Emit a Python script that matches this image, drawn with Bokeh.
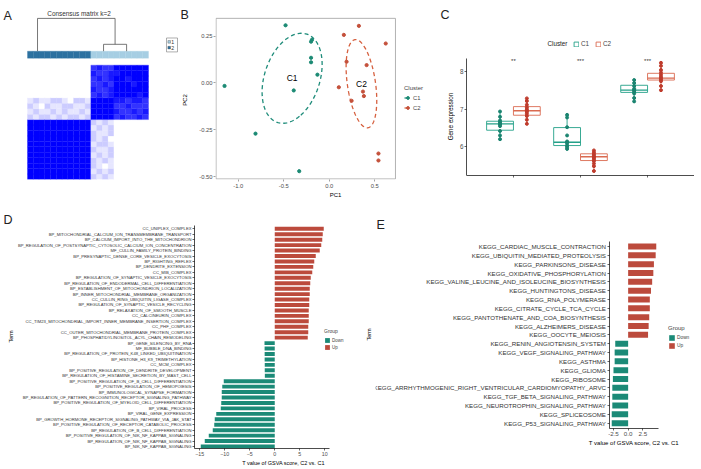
import numpy as np
from bokeh.plotting import figure
from bokeh.models import (Range1d, FactorRange, Label, Legend, LegendItem,
                          ColumnDataSource, FixedTicker, NumeralTickFormatter)
from bokeh.layouts import row, column
from bokeh.transform import dodge
from bokeh.core.properties import value
from bokeh.embed import file_html
from bokeh.resources import INLINE

FONT = "Liberation Sans"
TEAL = "#1B8A77"
RED = "#BC4A3C"

# ------------------------------------------------------------------ data
# A: consensus matrix (k=2)
n_cluster2 = 11          # left block (consensus cluster 2)
n_cluster1 = 10          # right block (consensus cluster 1)
cluster1_block = [
    [1, 1, 1, 1, .8, .9, .8, .8, .9, .8],
    [1, 1, 1, 1, .9, .8, .8, .9, .8, .9],
    [1, 1, 1, 1, .8, .8, .9, .8, .8, .8],
    [1, 1, 1, 1, .9, .9, .8, .9, .9, .8],
    [.8, .9, .8, .9, 1, 1, 1, 1, .9, 1],
    [.9, .8, .8, .9, 1, 1, 1, 1, 1, 1],
    [.8, .8, .9, .8, 1, 1, 1, .9, 1, 1],
    [.8, .9, .8, .9, 1, 1, .9, 1, 1, 1],
    [.9, .8, .8, .9, .9, 1, 1, 1, 1, 1],
    [.8, .9, .8, .8, 1, 1, 1, 1, 1, 1],
]
cross_consensus = [
    [.2, .1, .2, .2, .1, .2, .1, .2, .2, .1, .2],
    [.1, .2, .1, .1, .2, .1, .2, .1, .1, .2, .1],
    [.2, .1, 0, .2, .1, .1, .2, .2, .1, .1, .2],
    [.1, .2, .1, .1, .2, .2, .1, 0, .2, .2, .1],
]
cluster_colors = {1: "#A6CEE3", 2: "#2C71A0"}
dendro_left = 1.74
dendro_sub = [13.2, 17.2]
dendro_sub_height = 0.21

# B: PCA
pc1_c1 = [-0.48, -1.15, -0.81, -0.33, -0.39, -0.19, -0.20, -0.20, -0.20, -0.13]
pc2_c1 = [0.307, -0.016, -0.27, -0.47, -0.04, 0.23, 0.22, 0.134, 0.11, 0.044]
pc1_c2 = [0.325, 0.16, 0.62, 0.19, 0.41, 0.105, 0.37, 0.38, 0.245, 0.54, 0.54]
pc2_c2 = [0.304, 0.256, 0.21, 0.113, 0.095, -0.023, -0.046, -0.07, -0.095, -0.376, -0.413]

# C: gene expression
genes = ["NFE2L2", "ATP7B", "MTF1"]
signif = ["**", "***", "***"]
c1_q1 = [6.44, 6.03, 7.45]
c1_med = [6.61, 6.12, 7.51]
c1_q3 = [6.68, 6.51, 7.64]
c1_lo = [6.20, 5.94, 7.21]
c1_hi = [6.94, 6.85, 7.78]
c2_q1 = [6.84, 5.63, 7.78]
c2_med = [6.96, 5.73, 7.83]
c2_q3 = [7.07, 5.81, 7.96]
c2_lo = [6.61, 5.35, 7.51]
c2_hi = [7.29, 5.90, 8.24]
c1_nfe2l2 = [6.94, 6.80, 6.70, 6.66, 6.62, 6.60, 6.55, 6.42, 6.30, 6.20]
c1_atp7b = [6.85, 6.78, 6.52, 6.30, 6.14, 6.12, 6.08, 6.02, 5.98, 5.94]
c1_mtf1 = [7.78, 7.70, 7.62, 7.55, 7.52, 7.50, 7.46, 7.42, 7.30, 7.21]
c2_nfe2l2 = [7.29, 7.22, 7.12, 7.05, 7.00, 6.96, 6.93, 6.88, 6.82, 6.72, 6.61]
c2_atp7b = [5.90, 5.85, 5.80, 5.76, 5.73, 5.70, 5.66, 5.62, 5.55, 5.48, 5.35]
c2_mtf1 = [8.24, 8.16, 8.05, 7.98, 7.92, 7.86, 7.82, 7.79, 7.75, 7.62, 7.51]

# D: GO terms
go_terms = [
    "CC_UNIPLEX_COMPLEX",
    "BP_MITOCHONDRIAL_CALCIUM_ION_TRANSMEMBRANE_TRANSPORT",
    "BP_CALCIUM_IMPORT_INTO_THE_MITOCHONDRION",
    "BP_REGULATION_OF_POSTSYNAPTIC_CYTOSOLIC_CALCIUM_ION_CONCENTRATION",
    "MF_CULLIN_FAMILY_PROTEIN_BINDING",
    "BP_PRESYNAPTIC_DENSE_CORE_VESICLE_EXOCYTOSIS",
    "BP_RIGHTING_REFLEX",
    "BP_DENDRITE_EXTENSION",
    "CC_MIB_COMPLEX",
    "BP_REGULATION_OF_SYNAPTIC_VESICLE_EXOCYTOSIS",
    "BP_REGULATION_OF_ENDODERMAL_CELL_DIFFERENTIATION",
    "BP_ESTABLISHMENT_OF_MITOCHONDRION_LOCALIZATION",
    "BP_INNER_MITOCHONDRIAL_MEMBRANE_ORGANIZATION",
    "CC_CULLIN_RING_UBIQUITIN_LIGASE_COMPLEX",
    "BP_REGULATION_OF_SYNAPTIC_VESICLE_RECYCLING",
    "BP_RELAXATION_OF_SMOOTH_MUSCLE",
    "CC_CALCINEURIN_COMPLEX",
    "CC_TIM23_MITOCHONDRIAL_IMPORT_INNER_MEMBRANE_INSERTION_COMPLEX",
    "CC_PHF_COMPLEX",
    "CC_OUTER_MITOCHONDRIAL_MEMBRANE_PROTEIN_COMPLEX",
    "BP_PHOSPHATIDYLINOSITOL_ACYL_CHAIN_REMODELING",
    "BP_GENE_SILENCING_BY_RNA",
    "MF_BUBBLE_DNA_BINDING",
    "BP_REGULATION_OF_PROTEIN_K48_LINKED_UBIQUITINATION",
    "BP_HISTONE_H3_K9_TRIMETHYLATION",
    "CC_MCM_COMPLEX",
    "BP_POSITIVE_REGULATION_OF_DENDRITE_DEVELOPMENT",
    "BP_REGULATION_OF_HISTAMINE_SECRETION_BY_MAST_CELL",
    "BP_POSITIVE_REGULATION_OF_B_CELL_DIFFERENTIATION",
    "BP_POSITIVE_REGULATION_OF_HEMOPOIESIS",
    "BP_IMMUNOLOGICAL_SYNAPSE_FORMATION",
    "BP_REGULATION_OF_PATTERN_RECOGNITION_RECEPTOR_SIGNALING_PATHWAY",
    "BP_POSITIVE_REGULATION_OF_MYELOID_CELL_DIFFERENTIATION",
    "BP_VIRAL_PROCESS",
    "BP_VIRAL_GENE_EXPRESSION",
    "BP_GROWTH_HORMONE_RECEPTOR_SIGNALING_PATHWAY_VIA_JAK_STAT",
    "BP_POSITIVE_REGULATION_OF_RECEPTOR_CATABOLIC_PROCESS",
    "BP_REGULATION_OF_B_CELL_DIFFERENTIATION",
    "BP_POSITIVE_REGULATION_OF_NIK_NF_KAPPAB_SIGNALING",
    "BP_REGULATION_OF_NIK_NF_KAPPAB_SIGNALING",
    "BP_NIK_NF_KAPPAB_SIGNALING",
]
go_tvalues = [9.8, 9.6, 9.5, 9.3, 9.0, 8.2, 7.9, 7.7, 7.5, 7.2, 7.1, 7.0, 7.0,
              6.9, 6.9, 6.8, 6.8, 6.8, 6.7, 6.7, 6.6,
              -2.05, -2.03, -2.02, -2.02, -2.0, -2.0, -1.98,
              -10.2, -10.5, -10.6, -10.6, -10.7, -10.8, -11.7, -12.0, -12.1,
              -12.4, -13.2, -14.0, -14.8]

# E: KEGG terms
kegg_terms = [
    "KEGG_CARDIAC_MUSCLE_CONTRACTION",
    "KEGG_UBIQUITIN_MEDIATED_PROTEOLYSIS",
    "KEGG_PARKINSONS_DISEASE",
    "KEGG_OXIDATIVE_PHOSPHORYLATION",
    "KEGG_VALINE_LEUCINE_AND_ISOLEUCINE_BIOSYNTHESIS",
    "KEGG_HUNTINGTONS_DISEASE",
    "KEGG_RNA_POLYMERASE",
    "KEGG_CITRATE_CYCLE_TCA_CYCLE",
    "KEGG_PANTOTHENATE_AND_COA_BIOSYNTHESIS",
    "KEGG_ALZHEIMERS_DISEASE",
    "KEGG_OOCYTE_MEIOSIS",
    "KEGG_RENIN_ANGIOTENSIN_SYSTEM",
    "KEGG_VEGF_SIGNALING_PATHWAY",
    "KEGG_ASTHMA",
    "KEGG_GLIOMA",
    "KEGG_RIBOSOME",
    "KEGG_ARRHYTHMOGENIC_RIGHT_VENTRICULAR_CARDIOMYOPATHY_ARVC",
    "KEGG_TGF_BETA_SIGNALING_PATHWAY",
    "KEGG_NEUROTROPHIN_SIGNALING_PATHWAY",
    "KEGG_SPLICEOSOME",
    "KEGG_P53_SIGNALING_PATHWAY",
]
kegg_tvalues = [4.8, 4.7, 4.4, 4.3, 4.1, 3.9, 3.7, 3.7, 3.6, 3.5, 3.4,
                -2.2, -2.3, -2.3, -2.5, -2.6, -2.7, -2.7, -2.7, -2.8, -2.8]

# ------------------------------------------------------------------ layout (page px, origin top-left)
TOP_H = 200          # top row 0..200
TOP_FB = 180         # frame bottom, top row
BOT_Y0, BOT_H = 200, 268
BOT_FB = 448         # frame bottom, bottom row
TOP_BB = TOP_H - TOP_FB
BOT_BB = BOT_Y0 + BOT_H - BOT_FB


def base_fig(w, h, **kw):
    p = figure(width=w, height=h, output_backend="svg", toolbar_location=None, **kw)
    p.background_fill_color = "white"
    p.border_fill_color = "white"
    p.outline_line_color = None
    p.grid.visible = False
    return p


def style_axis(ax, label_size, tick_color="#4D4D4D", line=True):
    ax.major_label_text_font = FONT
    ax.major_label_text_font_size = label_size
    ax.major_label_text_color = tick_color
    ax.axis_label_text_font = FONT
    ax.axis_label_text_font_style = "normal"
    ax.axis_label_text_color = "black"
    ax.minor_tick_line_color = None
    ax.minor_tick_out = 0
    ax.minor_tick_in = 0
    ax.major_tick_in = 0
    ax.major_tick_out = 2
    ax.major_tick_line_width = 0.6
    ax.axis_line_width = 0.7
    ax.major_label_standoff = 1
    if not line:
        ax.axis_line_color = None


def label(p, txt, fl, fb, sx, sy, size, align="left", baseline="top", color="#222", angle=0.0):
    # text placed inside the plot frame, position given in page px
    p.add_layout(Label(x=sx - fl, y=fb - sy, x_units="screen", y_units="screen", text=txt,
                       text_font=FONT, text_font_size=size, text_color=color,
                       text_baseline=baseline, text_align=align, angle=angle))


# ------------------------------------------------------------------ A  (page x 0..190)
pa = base_fig(190, TOP_H, x_range=Range1d(0, 190), y_range=Range1d(TOP_FB, 0),
              x_axis_type=None, y_axis_type=None,
              min_border_left=0, min_border_right=0, min_border_top=0, min_border_bottom=TOP_BB)
HX0, HY0 = 27.0, 65.0
n = n_cluster2 + n_cluster1
CW, CH = 121.0 / n, 115.0 / n
M = np.zeros((n, n))
M[:n_cluster2, :n_cluster2] = 1.0
M[n_cluster2:, n_cluster2:] = np.array(cluster1_block)
cr = np.array(cross_consensus)
M[n_cluster2:n_cluster2 + cr.shape[0], :n_cluster2] = cr
M[:n_cluster2, n_cluster2:n_cluster2 + cr.shape[0]] = cr.T
hx, hy, hc = [], [], []
for i in range(n):
    for j in range(n):
        v = M[j, i]
        hx.append(HX0 + (i + 0.5) * CW)
        hy.append(HY0 + (n - 1 - j + 0.5) * CH)
        c = int(round(255 * (1 - v)))
        hc.append("#%02x%02x%02x" % (c, c, 255))
pa.rect(x=hx, y=hy, width=CW, height=CH, fill_color=hc, line_color=hc, line_width=0.3)

clusters = [2] * n_cluster2 + [1] * n_cluster1
pa.rect(x=[HX0 + (i + 0.5) * CW for i in range(n)], y=[54.5] * n, width=CW, height=7,
        fill_color=[cluster_colors[c] for c in clusters],
        line_color=[cluster_colors[c] for c in clusters], line_width=0.3)


def dpx(u):
    return HX0 + u * CW


def dpy(h):
    return 51 - h * 33


dendro_right = (dendro_sub[0] + dendro_sub[1]) / 2
seg = [
    (dendro_left, 1, dendro_right, 1),
    (dendro_left, 1, dendro_left, 0),
    (dendro_right, 1, dendro_right, dendro_sub_height),
    (dendro_sub[0], dendro_sub_height, dendro_sub[1], dendro_sub_height),
    (dendro_sub[0], dendro_sub_height, dendro_sub[0], 0),
    (dendro_sub[1], dendro_sub_height, dendro_sub[1], 0),
]
pa.segment(x0=[dpx(s[0]) for s in seg], y0=[dpy(s[1]) for s in seg],
           x1=[dpx(s[2]) for s in seg], y1=[dpy(s[3]) for s in seg],
           line_color="#555555", line_width=0.8)
pa.text(x=[78.5], y=[13], text=["Consensus matrix k=2"], text_font=value(FONT),
        text_font_size="6.4px", text_color="#333333", text_align="center", text_baseline="middle")
pa.rect(x=[171.5], y=[44.7], width=11, height=14, fill_color=None, line_color="#777777", line_width=0.6)
pa.rect(x=[168.7, 168.7], y=[41.6, 47.4], width=2.6, height=2.6,
        fill_color=[cluster_colors[1], cluster_colors[2]], line_color="#555555", line_width=0.4)
pa.text(x=[170.8, 170.8], y=[41.6, 47.4], text=["1", "2"], text_font=value(FONT),
        text_font_size="5.2px", text_color="#333333", text_align="left", text_baseline="middle")
pa.text(x=[3, 180], y=[9, 8], text=["A", "B"], text_font=value(FONT), text_font_size="12.5px",
        text_color="#222", text_align="left", text_baseline="top")
# y-axis title of panel B (sits left of B's tick labels)
pa.text(x=[184], y=[100], text=["PC2"], text_font=value(FONT), text_font_size="6px",
        text_color="black", text_align="center", text_baseline="middle", angle=np.pi / 2)

# ------------------------------------------------------------------ B  (page x 190..455)
B_L = 215
bx_per = 91.07
by_per = 188.8
bx0 = -1.0 - (237.7 - B_L) / bx_per
by_top = 0.25 + 35.7 / by_per
by_bot = -0.5 - (TOP_FB - 177.3) / by_per
pb = base_fig(265, TOP_H, x_range=Range1d(bx0, bx0 + (455 - B_L) / bx_per),
              y_range=Range1d(by_bot, by_top),
              min_border_left=B_L - 190, min_border_right=0,
              min_border_top=0, min_border_bottom=TOP_BB)
pb.quad(left=[bx0 + 0.006], right=[0.727], bottom=[by_bot + 0.003], top=[0.344],
        fill_color=None, line_color="#AAAAAA", line_width=0.9)
pb.xaxis.ticker = FixedTicker(ticks=[-1.0, -0.5, 0.0, 0.5])
pb.yaxis.ticker = FixedTicker(ticks=[-0.5, -0.25, 0.0, 0.25])
pb.xaxis.formatter = NumeralTickFormatter(format="0.0")
pb.yaxis.formatter = NumeralTickFormatter(format="0.00")
pb.xaxis.axis_label = "PC1"
for ax in (pb.xaxis[0], pb.yaxis[0]):
    style_axis(ax, "5.8px", line=False)
    ax.axis_label_text_font_size = "6px"
    ax.major_tick_line_color = "#666666"
pb.xaxis.major_label_standoff = 2
pb.xaxis.axis_label_standoff = 1


def ellipse_path(xs, ys, scale=1.0, npts=120):
    x = np.array(xs)
    y = np.array(ys)
    cov = np.cov(x, y)
    vals, vecs = np.linalg.eigh(cov)
    t = np.linspace(0, 2 * np.pi, npts)
    circ = np.vstack([np.cos(t), np.sin(t)])
    pts = vecs @ (np.sqrt(vals)[:, None] * circ) * scale
    return x.mean() + pts[0], y.mean() + pts[1]


e1x, e1y = ellipse_path(pc1_c1, pc2_c1)
e2x, e2y = ellipse_path(pc1_c2, pc2_c2)
l1 = pb.line(e1x, e1y, line_color="#1E8C7A", line_width=1.3, line_dash="4 3")
l2 = pb.line(e2x, e2y, line_color="#D6603F", line_width=1.3, line_dash="4 3")
s1 = pb.scatter(pc1_c1, pc2_c1, size=3.2, color="#1B8A74")
s2 = pb.scatter(pc1_c2, pc2_c2, size=3.2, color="#C4503A")
pb.text(x=[float(np.mean(pc1_c1)), float(np.mean(pc1_c2))],
        y=[float(np.mean(pc2_c1)), float(np.mean(pc2_c2))], text=["C1", "C2"],
        text_font=value(FONT), text_font_size="8.5px", text_color="black",
        text_align="center", text_baseline="middle")
leg_b = Legend(items=[LegendItem(label="C1", renderers=[l1, s1]),
                      LegendItem(label="C2", renderers=[l2, s2])],
               title="Cluster", location=(404 - B_L, TOP_FB - 112), orientation="vertical",
               glyph_width=7, glyph_height=7, label_height=7, label_width=10,
               label_text_font=FONT, label_text_font_size="5.8px", label_standoff=2,
               title_text_font=FONT, title_text_font_size="6px", title_text_font_style="normal",
               title_standoff=3, spacing=3, padding=0, margin=0,
               border_line_color=None, background_fill_alpha=0)
pb.add_layout(leg_b)
# panel C's letter and y-axis title fall in this frame
label(pb, "C", B_L, TOP_FB, 440, 8, "12.5px")
label(pb, "Gene expression", B_L, TOP_FB, 450, 117, "6.3px", align="center",
      baseline="middle", color="black", angle=np.pi / 2)

# ------------------------------------------------------------------ C  (page x 455..694)
C_L = 466
cy_per = 37.65
cy_top = 8 + 71.7 / cy_per
cy_bot = 6 - (TOP_FB - 147.0) / cy_per
pc = base_fig(239, TOP_H,
              x_range=FactorRange(factors=genes, range_padding=0.2, range_padding_units="absolute"),
              y_range=Range1d(cy_bot, cy_top),
              min_border_left=C_L - 455, min_border_right=0,
              min_border_top=0, min_border_bottom=TOP_BB)
pc.yaxis.ticker = FixedTicker(ticks=[6, 7, 8])
for ax in (pc.xaxis[0], pc.yaxis[0]):
    style_axis(ax, "6.3px")
pc.xaxis.fixed_location = 5.23
pc.xaxis.major_label_standoff = 4
pc.yaxis.bounds = (5.23, 8.36)

OFF, BW = 0.2, 0.4
boxes = []
for off, q1, med, q3, lo, hi, lc, pcol, pts in [
    (-OFF, c1_q1, c1_med, c1_q3, c1_lo, c1_hi, "#23A088", "#1A8470", [c1_nfe2l2, c1_atp7b, c1_mtf1]),
    (OFF, c2_q1, c2_med, c2_q3, c2_lo, c2_hi, "#DA6A50", "#BF3B2C", [c2_nfe2l2, c2_atp7b, c2_mtf1]),
]:
    src = ColumnDataSource(dict(gene=genes, q1=q1, med=med, q3=q3, lo=lo, hi=hi))
    pc.segment(x0=dodge("gene", off, range=pc.x_range), y0="hi",
               x1=dodge("gene", off, range=pc.x_range), y1="q3", source=src,
               line_color=lc, line_width=0.9)
    pc.segment(x0=dodge("gene", off, range=pc.x_range), y0="lo",
               x1=dodge("gene", off, range=pc.x_range), y1="q1", source=src,
               line_color=lc, line_width=0.9)
    b = pc.vbar(x=dodge("gene", off, range=pc.x_range), width=BW, top="q3", bottom="q1",
                source=src, fill_color="white", line_color=lc, line_width=0.9)
    boxes.append(b)
    pc.segment(x0=dodge("gene", off - BW / 2, range=pc.x_range), y0="med",
               x1=dodge("gene", off + BW / 2, range=pc.x_range), y1="med", source=src,
               line_color=lc, line_width=1.4)
    pg, pv = [], []
    for g, vals in zip(genes, pts):
        pg += [g] * len(vals)
        pv += vals
    psrc = ColumnDataSource(dict(gene=pg, val=pv))
    pc.scatter(x=dodge("gene", off, range=pc.x_range), y="val", source=psrc,
               size=3, color=pcol)

pc.text(x=genes, y=[8.3] * 3, text=signif, text_font=value(FONT), text_font_size="6px",
        text_color="#333333", text_align="center", text_baseline="middle")
leg_c = Legend(items=[LegendItem(label="C1", renderers=[boxes[0]]),
                      LegendItem(label="C2", renderers=[boxes[1]])],
               location=(573 - C_L, TOP_FB - 48), orientation="horizontal",
               glyph_width=6, glyph_height=6, label_height=6, label_width=10,
               label_text_font=FONT, label_text_font_size="6.3px", label_standoff=2,
               spacing=4, padding=0, margin=0,
               border_line_color=None, background_fill_alpha=0)
pc.add_layout(leg_c)
label(pc, "Cluster", C_L, TOP_FB, 547, 44, "6.3px", baseline="middle")

# ------------------------------------------------------------------ D letter strip (page x 0..14)
pdl = base_fig(14, BOT_H, x_range=Range1d(0, 14), y_range=Range1d(BOT_FB, BOT_Y0),
               x_axis_type=None, y_axis_type=None,
               min_border_left=0, min_border_right=0, min_border_top=0, min_border_bottom=BOT_BB)
pdl.text(x=[3], y=[212], text=["D"], text_font=value(FONT), text_font_size="12.5px",
         text_color="#222", text_align="left", text_baseline="top")
pdl.text(x=[10.5], y=[336], text=["Term"], text_font=value(FONT), text_font_size="5.5px",
         text_color="black", text_align="center", text_baseline="middle", angle=np.pi / 2)


# ------------------------------------------------------------------ D / E bar panels
def bar_panel(terms, tvals, fig_w, fx0, f_left, axis_x, xstart, px_per_unit, top_center, bar_px,
              axis_y, bounds, ticks, fmt, tick_size, num_size, title_size, bar_h,
              leg_x, leg_bottom, leg_glyph, leg_lbl, leg_title, inner_labels=False):
    # f_left: page x of the plot frame's left edge; axis_x: page x of the term axis
    nt = len(terms)
    fw = fx0 + fig_w - f_left
    x_lo = xstart - (axis_x - f_left) / px_per_unit
    xr = Range1d(x_lo, x_lo + fw / px_per_unit)
    y_top = nt + (top_center - BOT_Y0) / bar_px
    y_bot = nt - (BOT_FB - top_center) / bar_px
    p = base_fig(fig_w, BOT_H, x_range=xr, y_range=Range1d(y_bot, y_top),
                 min_border_left=f_left - fx0, min_border_right=0,
                 min_border_top=0, min_border_bottom=BOT_BB)
    ypos = [nt - i for i in range(nt)]
    up_y = [y for y, v in zip(ypos, tvals) if v > 0]
    up_v = [v for v in tvals if v > 0]
    dn_y = [y for y, v in zip(ypos, tvals) if v <= 0]
    dn_v = [v for v in tvals if v <= 0]
    ru = p.hbar(y=up_y, left=0, right=up_v, height=bar_h, fill_color=RED, line_color=None)
    rd = p.hbar(y=dn_y, left=0, right=dn_v, height=bar_h, fill_color=TEAL, line_color=None)
    p.xaxis.ticker = FixedTicker(ticks=ticks)
    if fmt:
        p.xaxis.formatter = NumeralTickFormatter(format=fmt)
    p.xaxis.bounds = bounds
    if axis_y is not None:
        p.xaxis.fixed_location = axis_y
    p.xaxis.axis_label = "T value of GSVA score, C2 vs. C1"
    p.yaxis.ticker = FixedTicker(ticks=ypos)
    p.yaxis.bounds = (axis_y if axis_y is not None else y_bot, nt + 0.6)
    style_axis(p.xaxis[0], num_size)
    style_axis(p.yaxis[0], tick_size, tick_color="#333333")
    if inner_labels:
        # term axis drawn inside the frame; its labels are set as text next to the ticks
        p.yaxis.fixed_location = xstart
        p.yaxis.major_label_text_font_size = "1px"
        p.yaxis.major_label_text_alpha = 0
        p.yaxis.major_label_standoff = 0
        p.text(x=[xstart] * nt, y=ypos, text=terms, x_offset=-3.5, text_font=value(FONT),
               text_font_size=tick_size, text_color="#333333", text_align="right",
               text_baseline="middle")
    else:
        p.yaxis.major_label_overrides = {y: t for y, t in zip(ypos, terms)}
    p.xaxis.axis_label_text_font_size = title_size
    p.xaxis.axis_label_standoff = 1
    leg = Legend(items=[LegendItem(label="Down", renderers=[rd]),
                        LegendItem(label="Up", renderers=[ru])],
                 title="Group", location=(leg_x - f_left, BOT_FB - leg_bottom),
                 orientation="vertical", glyph_width=leg_glyph, glyph_height=leg_glyph,
                 label_height=leg_glyph, label_width=8,
                 label_text_font=FONT, label_text_font_size=leg_lbl, label_standoff=2,
                 title_text_font=FONT, title_text_font_size=leg_title,
                 title_text_font_style="normal", title_standoff=3, spacing=1,
                 padding=0, margin=0, border_line_color=None, background_fill_alpha=0)
    p.add_layout(leg)
    return p


D_L, E_AX = 194, 609
pd_ = bar_panel(go_terms, go_tvalues, 358, 14, D_L, D_L, -16.05, 5.0, 228.3, 5.4425,
                None, (-16.05, 11.0), [-15, -10, -5, 0, 5, 10], None,
                "4.2px", "5.3px", "5.5px", 0.72,
                324, 350, 6, "4.5px", "5px")
# panel E's y-axis title falls in D's frame
label(pd_, "Term", D_L, BOT_FB, 368.5, 334, "5.5px", align="center", baseline="middle",
      color="black", angle=np.pi / 2)

E_FL = 375   # expected frame left of E (tiny left axis panel)
pe = bar_panel(kegg_terms, kegg_tvalues, 329, 372, E_FL, E_AX, -3.18, 5.86, 246.0, 8.835,
               0.4, (-3.18, 5.18), [-2.5, 0, 2.5], "0.0",
               "6.2px", "6.2px", "6px", 0.68,
               668, 349, 7, "4.8px", "6px", inner_labels=True)
label(pe, "E", E_FL, BOT_FB, 376, 217, "12.5px")

layout = column(row(pa, pb, pc), row(pdl, pd_, pe))
open("out.html", "w").write(file_html(layout, INLINE, "Figure"))
